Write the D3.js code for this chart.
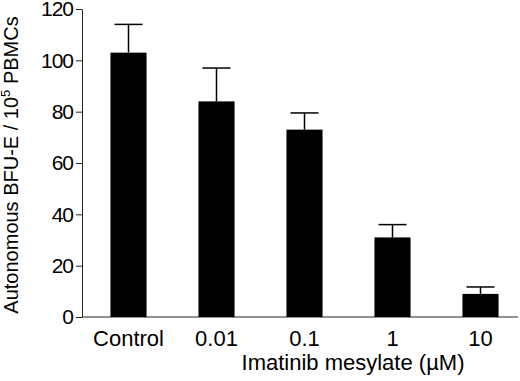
<!DOCTYPE html>
<html>
<head>
<meta charset="utf-8">
<script src="https://cdn.jsdelivr.net/npm/d3@7"></script>
<style>
  body { margin: 0; background: #fff; }
  text { font-family: "Liberation Sans", Arial, sans-serif; }
</style>
</head>
<body>
<div id="chart"></div>
<script>
const categories = ["Control", "0.01", "0.1", "1", "10"];
const values = [103, 84, 73, 31, 9];
const errors = [11, 13, 6.5, 5, 2.7];
const yTicks = [0, 20, 40, 60, 80, 100, 120];

const margin = {top: 9, right: 2, bottom: 64, left: 82},
  width = 520 - margin.left - margin.right,
  height = 381 - margin.top - margin.bottom;

const svg = d3.select("#chart")
  .append("svg")
    .attr("width", width + margin.left + margin.right)
    .attr("height", height + margin.top + margin.bottom)
  .append("g")
    .attr("transform", `translate(${margin.left},${margin.top})`);

// bands centred in 88px slots
const x = d3.scaleBand()
  .domain(categories)
  .range([2.5, 442.5])
  .paddingInner(0.59)
  .paddingOuter(0.295);

const y = d3.scaleLinear()
  .domain([0, 120])
  .range([height, 0]);

const yAxis = svg.append("g")
  .call(d3.axisLeft(y).tickValues(yTicks).tickSize(6).tickPadding(3).tickSizeOuter(0));
yAxis.select(".domain").attr("stroke", "#222");
yAxis.selectAll(".tick line").attr("stroke", "#222");
yAxis.selectAll("text")
  .attr("font-size", 21)
  .attr("letter-spacing", "-1px")
  .attr("fill", "#000");

// x axis baseline
svg.append("line")
  .attr("x1", 0).attr("x2", width)
  .attr("y1", height).attr("y2", height)
  .attr("stroke", "#222");

svg.selectAll(".cat")
  .data(categories)
  .join("text")
    .attr("class", "cat")
    .attr("x", d => x(d) + x.bandwidth() / 2)
    .attr("y", height + 29)
    .attr("text-anchor", "middle")
    .attr("font-size", 22)
    .text(d => d);

const data = categories.map((c, i) => ({c, v: values[i], e: errors[i]}));

svg.selectAll(".bar")
  .data(data)
  .join("rect")
    .attr("class", "bar")
    .attr("x", d => x(d.c))
    .attr("y", d => y(d.v))
    .attr("width", x.bandwidth())
    .attr("height", d => height - y(d.v))
    .attr("fill", "#000");

const err = svg.selectAll(".err")
  .data(data)
  .join("g")
    .attr("class", "err")
    .attr("stroke", "#000")
    .attr("stroke-width", 1.5);
err.append("line")
  .attr("x1", d => x(d.c) + x.bandwidth() / 2)
  .attr("x2", d => x(d.c) + x.bandwidth() / 2)
  .attr("y1", d => y(d.v))
  .attr("y2", d => y(d.v + d.e));
err.append("line")
  .attr("x1", d => x(d.c) + x.bandwidth() / 2 - 14)
  .attr("x2", d => x(d.c) + x.bandwidth() / 2 + 14)
  .attr("y1", d => y(d.v + d.e))
  .attr("y2", d => y(d.v + d.e));

// axis titles
svg.append("text")
  .attr("x", 353 - margin.left)
  .attr("y", 370 - margin.top)
  .attr("text-anchor", "middle")
  .attr("font-size", 22)
  .text("Imatinib mesylate (\u00b5M)");

const yl = svg.append("text")
  .attr("transform", `translate(${18 - margin.left},${165 - margin.top}) rotate(-90)`)
  .attr("text-anchor", "middle")
  .attr("font-size", 20);
yl.append("tspan").text("Autonomous BFU-E / 10");
yl.append("tspan").attr("font-size", 13).attr("dy", -8).text("5");
yl.append("tspan").attr("dy", 8).text(" PBMCs");
</script>
</body>
</html>
